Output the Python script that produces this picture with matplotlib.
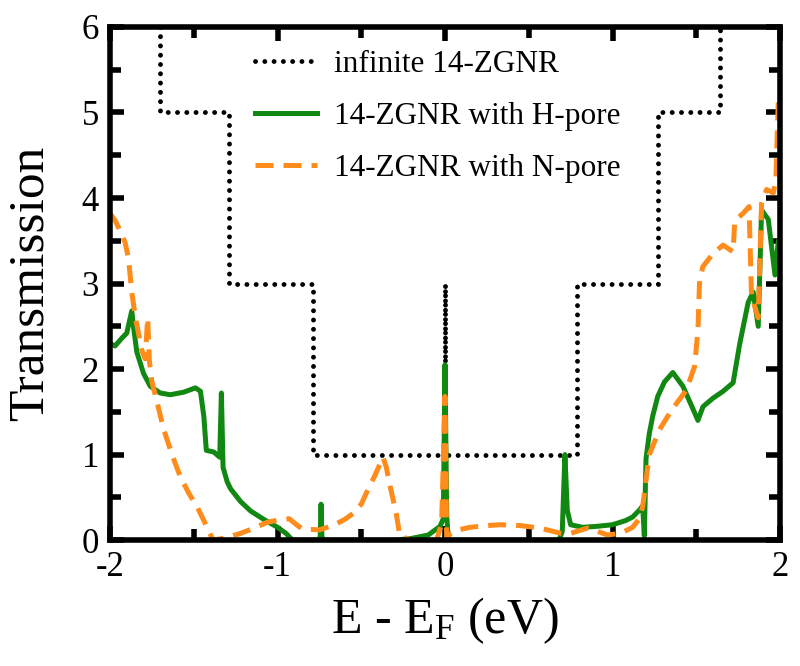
import matplotlib
matplotlib.use('Agg')
import matplotlib.pyplot as plt
from matplotlib.ticker import MultipleLocator

# infinite 14-ZGNR (step function, drawn as steps-post)
e_inf = [-2.0, -1.70, -1.29, -0.79, 0.0, 0.0, 0.79, 1.27, 1.64, 2.0]
t_inf = [7.0, 5.0, 3.0, 1.0, 3.0, 1.0, 3.0, 5.0, 7.0, 7.0]

# 14-ZGNR with H-pore
e_h = [-2.0, -1.97, -1.93, -1.90, -1.87, -1.86, -1.84, -1.80, -1.76, -1.70,
       -1.64, -1.56, -1.49, -1.46, -1.44, -1.425, -1.38, -1.345, -1.335, -1.325,
       -1.30, -1.28, -1.22, -1.16, -1.08, -1.0, -0.95, -0.91, -0.75, -0.745,
       -0.74, -0.735, -0.73, -0.5, -0.3, -0.2, -0.1, -0.03, -0.01, 0.0,
       0.01, 0.02, 0.68, 0.70, 0.716, 0.73, 0.75, 0.82, 0.9, 1.0,
       1.08, 1.12, 1.16, 1.18, 1.19, 1.20, 1.22, 1.24, 1.27, 1.31,
       1.36, 1.42, 1.47, 1.51, 1.54, 1.60, 1.66, 1.72, 1.76, 1.81,
       1.84, 1.87, 1.89, 1.93, 1.97, 1.99, 2.0]
t_h = [2.30, 2.27, 2.36, 2.42, 2.68, 2.50, 2.20, 1.95, 1.80, 1.72,
       1.70, 1.73, 1.78, 1.74, 1.45, 1.05, 1.03, 0.97, 1.72, 0.85,
       0.68, 0.60, 0.45, 0.34, 0.24, 0.15, 0.08, 0.0, 0.0, 0.05,
       0.42, 0.05, 0.0, 0.0, 0.0, 0.02, 0.06, 0.16, 0.25, 2.05,
       0.30, 0.0, 0.0, 0.10, 1.0, 0.35, 0.18, 0.15, 0.16, 0.18,
       0.23, 0.27, 0.35, 0.40, 0.05, 0.95, 1.25, 1.45, 1.68, 1.85,
       1.96, 1.80, 1.58, 1.40, 1.56, 1.66, 1.74, 1.84, 2.30, 2.78,
       2.90, 2.50, 3.86, 3.75, 3.10, 3.50, 3.50]

# 14-ZGNR with N-pore
e_n = [-2.0, -1.97, -1.94, -1.91, -1.89, -1.87, -1.85, -1.83, -1.81, -1.79,
       -1.775, -1.765, -1.75, -1.73, -1.68, -1.63, -1.58, -1.53, -1.48, -1.42,
       -1.385, -1.30, -1.22, -1.14, -1.06, -0.98, -0.93, -0.88, -0.85, -0.75,
       -0.67, -0.6, -0.55, -0.5, -0.47, -0.42, -0.37, -0.35, -0.33, -0.29,
       -0.27, -0.2, -0.05, -0.02, 0.0, 0.01, 0.03, 0.08, 0.15, 0.25,
       0.33, 0.45, 0.57, 0.63, 0.69, 0.75, 0.8, 0.85, 0.9, 0.97,
       1.05, 1.12, 1.16, 1.18, 1.20, 1.22, 1.28, 1.34, 1.39, 1.44,
       1.49, 1.51, 1.52, 1.54, 1.60, 1.66, 1.72, 1.73, 1.78, 1.815,
       1.83, 1.87, 1.89, 1.92, 1.96, 1.975, 1.99, 2.0]
t_n = [3.82, 3.74, 3.62, 3.48, 3.30, 2.90, 2.62, 2.42, 2.22, 2.12,
       2.60, 2.10, 1.85, 1.70, 1.30, 1.00, 0.74, 0.55, 0.39, 0.15,
       0.0, 0.03, 0.08, 0.14, 0.21, 0.24, 0.25, 0.17, 0.13, 0.12,
       0.17, 0.24, 0.31, 0.42, 0.55, 0.75, 0.97, 0.85, 0.65, 0.30,
       0.05, 0.0, 0.0, 0.20, 1.68, 0.02, 0.07, 0.12, 0.15, 0.17,
       0.18, 0.17, 0.14, 0.11, 0.08, 0.08, 0.11, 0.14, 0.11, 0.06,
       0.08, 0.15, 0.25, 0.39, 0.70, 1.00, 1.29, 1.48, 1.62, 1.75,
       2.03, 2.45, 3.04, 3.20, 3.35, 3.45, 3.37, 3.74, 3.82, 3.90,
       2.85, 2.60, 3.94, 4.10, 4.06, 4.20, 5.15, 5.15]

labels = ['infinite 14-ZGNR', '14-ZGNR with H-pore', '14-ZGNR with N-pore']

plt.rcParams['font.family'] = ['Liberation Serif', 'DejaVu Serif']
plt.rcParams['mathtext.fontset'] = 'custom'
plt.rcParams['mathtext.rm'] = 'Liberation Serif'
plt.rcParams['mathtext.it'] = 'Liberation Serif:italic'
plt.rcParams['axes.unicode_minus'] = False
# tick style set up front, before the axes exist
plt.rcParams.update({
    'xtick.direction': 'in', 'ytick.direction': 'in',
    'xtick.top': True, 'ytick.right': True,
    'xtick.major.size': 10, 'ytick.major.size': 10,
    'xtick.minor.size': 8, 'ytick.minor.size': 8,
    'xtick.major.width': 4, 'ytick.major.width': 4,
    'xtick.minor.width': 4, 'ytick.minor.width': 4,
    'xtick.major.pad': 8, 'ytick.major.pad': 8,
    'xtick.labelsize': 25, 'ytick.labelsize': 25,
    'axes.linewidth': 4,
})

fig = plt.figure(figsize=(8, 6.66), dpi=100)
ax = fig.add_axes([0.1375, 0.189, 0.8375, 0.7705])

ax.plot(e_inf, t_inf, drawstyle='steps-post', color='black', lw=3.5,
        linestyle=(0, (0.01, 1.9)), dash_capstyle='round', label=labels[0])
ax.plot(e_h, t_h, color='#118811', lw=3.6, solid_joinstyle='round',
        label=labels[1])
ax.plot(e_n, t_n, color='#ff8c1a', lw=3.6, linestyle=(0, (3.6, 2.0)),
        label=labels[2])

ax.set_xlim(-2, 2)
ax.set_ylim(0, 6)
ax.xaxis.set_major_locator(MultipleLocator(1))
ax.xaxis.set_minor_locator(MultipleLocator(0.5))
ax.yaxis.set_major_locator(MultipleLocator(1))
ax.yaxis.set_minor_locator(MultipleLocator(0.5))

ax.set_xlabel(r'E - E$_\mathrm{F}$ (eV)', fontsize=36, labelpad=8)
ax.set_ylabel('Transmission', fontsize=37, labelpad=20)

ax.legend(loc='upper left', bbox_to_anchor=(0.216, 0.955), frameon=False,
          fontsize=22.5, handlelength=2.0, handletextpad=0.55,
          labelspacing=0.74, borderpad=0, borderaxespad=0)

fig.savefig('out.png', dpi=100)
